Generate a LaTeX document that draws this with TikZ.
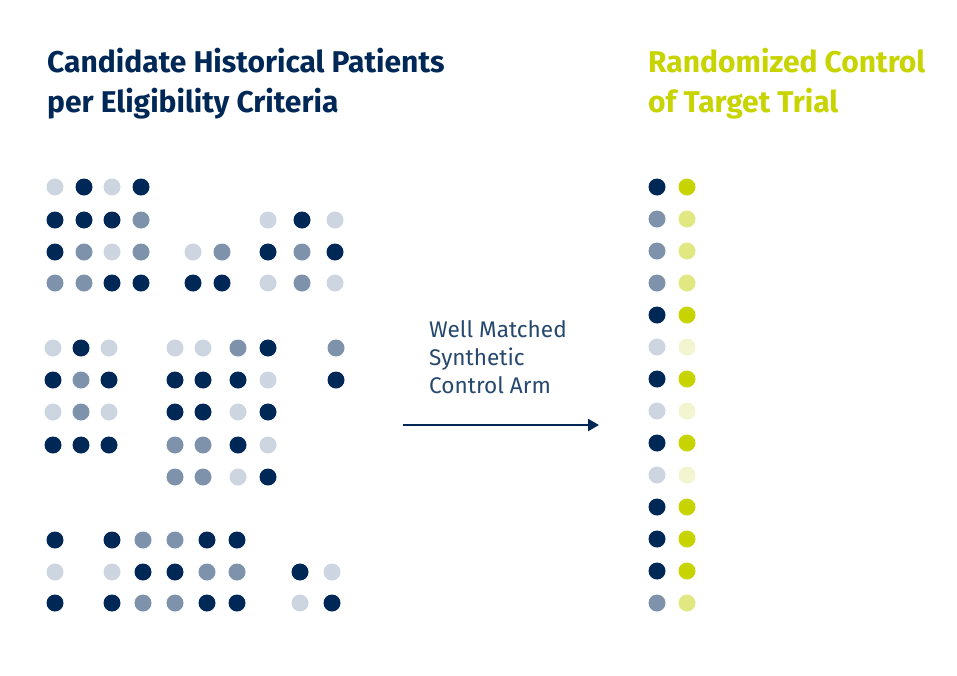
\documentclass[tikz,border=0pt]{standalone}
\usepackage{fontspec}
\setmainfont{Fira Sans}
\usetikzlibrary{arrows.meta}
\definecolor{navy}{HTML}{002856}
\definecolor{midb}{HTML}{7E92AB}
\definecolor{lightb}{HTML}{CDD5E0}
\definecolor{yel}{HTML}{C8D400}
\definecolor{lyel}{HTML}{E2E881}
\definecolor{vlyel}{HTML}{F2F5CF}
\begin{document}
\begin{tikzpicture}[x=1pt,y=-1pt,
  dot/.style={circle,inner sep=0pt,minimum size=17pt,fill=#1},
  title/.style={anchor=base west,inner sep=0pt,font=\fontsize{30}{34}\selectfont\bfseries},
  label/.style={anchor=base west,inner sep=0pt,font=\fontsize{22.6}{25}\selectfont,text=navy!85}]
\useasboundingbox[fill=white] (0,0) rectangle (957,675);
% titles
\node[title,text=navy] (t1) at (47,72) {Candidate Historical Patients};
\node[title,text=navy] (t2) at (47,112) {per Eligibility Criteria};
\node[title,text=yel] (t3) at (648,72) {Randomized Control};
\node[title,text=yel] (t4) at (648,112) {of Target Trial};
% middle label
\node[label] (l1) at (429,337) {Well Matched};
\node[label] (l2) at (429,365) {Synthetic};
\node[label] (l3) at (429,393) {Control Arm};
\coordinate (a1) at (403,425);
\coordinate (a2) at (599,425);
\draw[navy,line width=2.4pt,-{Triangle[length=11pt,width=12pt]}] (a1) -- (a2);
% block 1
\foreach \x/\y/\c [count=\i] in {
 55/187/lightb,84/187/navy,112/187/lightb,141/187/navy,
 55/220/navy,84/220/navy,112/220/navy,141/220/midb,268/220/lightb,302/220/navy,335/220/lightb,
 55/252/navy,84/252/midb,112/252/lightb,141/252/midb,193/252/lightb,222/252/midb,268/252/navy,302/252/midb,335/252/navy,
 55/283/midb,84/283/midb,112/283/navy,141/283/navy,193/283/navy,222/283/navy,268/283/lightb,302/283/midb,335/283/lightb}
 \node[dot=\c] (b1d\i) at (\x,\y) {};
% block 2
\foreach \x/\y/\c [count=\i] in {
 53/348/lightb,81/348/navy,109/348/lightb,175/348/lightb,203/348/lightb,238/348/midb,268/348/navy,336/348/midb,
 53/380/navy,81/380/midb,109/380/navy,175/380/navy,203/380/navy,238/380/navy,268/380/lightb,336/380/navy,
 53/412/lightb,81/412/midb,109/412/lightb,175/412/navy,203/412/navy,238/412/lightb,268/412/navy,
 53/445/navy,81/445/navy,109/445/navy,175/445/midb,203/445/midb,238/445/navy,268/445/lightb,
 175/477/midb,203/477/midb,238/477/lightb,268/477/navy}
 \node[dot=\c] (b2d\i) at (\x,\y) {};
% block 3
\foreach \x/\y/\c [count=\i] in {
 55/540/navy,112/540/navy,143/540/midb,175/540/midb,207/540/navy,237/540/navy,
 55/572/lightb,112/572/lightb,143/572/navy,175/572/navy,207/572/midb,237/572/midb,300/572/navy,332/572/lightb,
 55/603/navy,112/603/navy,143/603/midb,175/603/midb,207/603/navy,237/603/navy,300/603/lightb,332/603/navy}
 \node[dot=\c] (b3d\i) at (\x,\y) {};
% right column
\foreach \a/\b [count=\i] in {navy/yel,midb/lyel,midb/lyel,midb/lyel,navy/yel,lightb/vlyel,navy/yel,lightb/vlyel,navy/yel,lightb/vlyel,navy/yel,navy/yel,navy/yel,midb/lyel}{
 \node[dot=\a] (rl\i) at (657,{187+(\i-1)*32.0}) {};
 \node[dot=\b] (rr\i) at (687,{187+(\i-1)*32.0}) {};
}
\end{tikzpicture}
\end{document}
